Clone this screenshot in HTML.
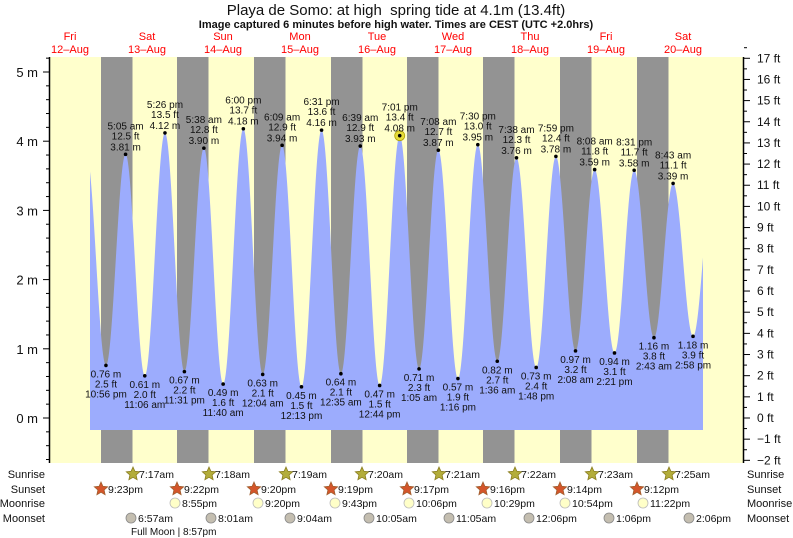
<!DOCTYPE html>
<html><head><meta charset="utf-8"><style>
html,body{margin:0;padding:0;background:#fff;}
svg{display:block;font-family:"Liberation Sans",Arial,sans-serif;}
</style></head><body>
<svg id="s" width="793" height="538" viewBox="0 0 793 538" xmlns="http://www.w3.org/2000/svg">
<rect x="0" y="0" width="793" height="538" fill="#fff"/>
<text x="396" y="15" font-size="15" text-anchor="middle" fill="#111">Playa de Somo: at high&#160; spring tide at 4.1m (13.4ft)</text>
<text x="396" y="28" font-size="11" font-weight="bold" text-anchor="middle" fill="#111">Image captured 6 minutes before high water. Times are CEST (UTC +2.0hrs)</text>
<g id="g"></g>
</svg>
<script>
const g=document.getElementById('g');let h='';
const X=t=>32.8+3.19*t, Y=m=>418-69.2*m;
h+='<rect x="49" y="57" width="694" height="406" fill="#ffffcc"/>';
const bands=[101,177,254,331,407,483,560,637];
bands.forEach(b=>h+=`<rect x="${b}" y="57" width="31.5" height="406" fill="#939393"/>`);
const days=[["Fri","12-Aug",70],["Sat","13-Aug",147],["Sun","14-Aug",223],["Mon","15-Aug",300],["Tue","16-Aug",377],["Wed","17-Aug",453],["Thu","18-Aug",530],["Fri","19-Aug",606],["Sat","20-Aug",683]];
days.forEach(d=>{h+=`<text x="${d[2]}" y="40" font-size="11" fill="#f00" text-anchor="middle">${d[0]}</text><text x="${d[2]}" y="53" font-size="11" fill="#f00" text-anchor="middle">${d[1].replace('-','\u2013')}</text>`});
const E=[[16.7,3.85,0,''],[22.93,0.76,0,'10:56 pm'],[29.08,3.81,1,'5:05 am'],[35.1,0.61,0,'11:06 am'],[41.43,4.12,1,'5:26 pm'],[47.52,0.67,0,'11:31 pm'],[53.63,3.90,1,'5:38 am'],[59.67,0.49,0,'11:40 am'],[66,4.18,1,'6:00 pm'],[72.07,0.63,0,'12:04 am'],[78.15,3.94,1,'6:09 am'],[84.22,0.45,0,'12:13 pm'],[90.52,4.16,1,'6:31 pm'],[96.58,0.64,0,'12:35 am'],[102.65,3.93,1,'6:39 am'],[108.73,0.47,0,'12:44 pm'],[115.02,4.08,1,'7:01 pm'],[121.08,0.71,0,'1:05 am'],[127.13,3.87,1,'7:08 am'],[133.27,0.57,0,'1:16 pm'],[139.5,3.95,1,'7:30 pm'],[145.6,0.82,0,'1:36 am'],[151.63,3.76,1,'7:38 am'],[157.8,0.73,0,'1:48 pm'],[163.98,3.78,1,'7:59 pm'],[170.13,0.97,0,'2:08 am'],[176.13,3.59,1,'8:08 am'],[182.35,0.94,0,'2:21 pm'],[188.52,3.58,1,'8:31 pm'],[194.72,1.16,0,'2:43 am'],[200.72,3.39,1,'8:43 am'],[206.97,1.18,0,'2:58 pm'],[213.2,3.45,1,'']];
function hAt(t){for(let i=0;i<E.length-1;i++){const a=E[i],b=E[i+1];if(t>=a[0]&&t<=b[0]){const f=(t-a[0])/(b[0]-a[0]);return a[1]+(b[1]-a[1])*(1-Math.cos(Math.PI*f))/2;}}return 2;}
let p='M90,430';for(let x=90;x<=703;x+=0.5){const t=(x-32.8)/3.19;p+=`L${x},${Y(hAt(t)).toFixed(1)}`;}p+='L703,430Z';
h+=`<path d="${p}" fill="#9cacfd"/>`;
E.forEach((e,i)=>{if(!e[3])return;const x=X(e[0]),y=Y(e[1]);const ft=(e[1]*3.28084).toFixed(1);const m=e[1].toFixed(2)+' m';
if(e[0]==115.02)h+=`<circle cx="${x}" cy="${y}" r="5" fill="#e6dc3a" stroke="#b0a000" stroke-width="0.8"/>`;
h+=`<circle cx="${x}" cy="${y}" r="1.8" fill="#000"/>`;
const st='font-size="10" text-anchor="middle" fill="#111"';
if(e[2]){h+=`<text x="${x}" y="${y-25}" ${st}>${e[3]}</text><text x="${x}" y="${y-15}" ${st}>${ft} ft</text><text x="${x}" y="${y-4}" ${st}>${m}</text>`;}
else{h+=`<text x="${x}" y="${y+12}" ${st}>${m}</text><text x="${x}" y="${y+22}" ${st}>${ft} ft</text><text x="${x}" y="${y+32}" ${st}>${e[3]}</text>`;}
});
h+='<line x1="49.5" y1="57" x2="49.5" y2="463" stroke="#000" stroke-width="1.5"/><line x1="743.5" y1="57" x2="743.5" y2="463" stroke="#000" stroke-width="1.5"/>';
for(let k=-3;k<=26;k++){const m=k*0.2,y=Y(m);if(y<57||y>463)continue;const maj=k%5==0;h+=`<line x1="${maj?43:46}" y1="${y}" x2="49" y2="${y}" stroke="#000"/>`;if(maj)h+=`<text x="38" y="${y+5}" font-size="13" text-anchor="end" fill="#111">${k/5} m</text>`;}
for(let f=-2;f<=17;f++){const y=418-21.16*f;h+=`<line x1="744" y1="${y}" x2="750" y2="${y}" stroke="#000"/>`;h+=`<line x1="744" y1="${y-10.58}" x2="747" y2="${y-10.58}" stroke="#000"/>`;h+=`<text x="757" y="${y+4}" font-size="12" fill="#111">${f<0?'\u2212'+(-f):f} ft</text>`;}
const rows=[['Sunrise',474],['Sunset',489],['Moonrise',503],['Moonset',518]];
rows.forEach(r=>{h+=`<text x="45" y="${r[1]+4}" font-size="11" text-anchor="end" fill="#111">${r[0]}</text><text x="747" y="${r[1]+4}" font-size="11" fill="#111">${r[0]}</text>`});
function star(cx,cy,fill,st){let pts=[];for(let i=0;i<10;i++){const r=i%2?3.3:7,a=-Math.PI/2+i*Math.PI/5;pts.push((cx+r*Math.cos(a)).toFixed(1)+','+(cy+r*Math.sin(a)).toFixed(1));}return `<polygon points="${pts.join(' ')}" fill="${fill}" stroke="${st}" stroke-width="0.8"/>`;}
const sr=[[133,'7:17am'],[209,'7:18am'],[286,'7:19am'],[362,'7:20am'],[439,'7:21am'],[515,'7:22am'],[592,'7:23am'],[669,'7:25am']];
sr.forEach(s=>{h+=star(s[0],474,'#b3ad3a','#8a7d20')+`<text x="${s[0]+6}" y="478" font-size="10.5" fill="#111">${s[1]}</text>`});
const ss=[[101,'9:23pm'],[177,'9:22pm'],[254,'9:20pm'],[331,'9:19pm'],[407,'9:17pm'],[483,'9:16pm'],[560,'9:14pm'],[637,'9:12pm']];
ss.forEach(s=>{h+=star(s[0],489,'#d4552a','#a06030')+`<text x="${s[0]+7}" y="493" font-size="10.5" fill="#111">${s[1]}</text>`});
const mr=[[175,'8:55pm'],[258,'9:20pm'],[335,'9:43pm'],[409,'10:06pm'],[487,'10:29pm'],[565,'10:54pm'],[643,'11:22pm']];
mr.forEach(s=>{h+=`<circle cx="${s[0]}" cy="503" r="5" fill="#ffffc8" stroke="#bbb" stroke-width="0.8"/><text x="${s[0]+7}" y="507" font-size="10.5" fill="#111">${s[1]}</text>`});
const ms=[[131,'6:57am'],[211,'8:01am'],[290,'9:04am'],[369,'10:05am'],[449,'11:05am'],[529,'12:06pm'],[609,'1:06pm'],[689,'2:06pm']];
ms.forEach(s=>{h+=`<circle cx="${s[0]}" cy="518" r="5" fill="#c4beb0" stroke="#888" stroke-width="0.8"/><text x="${s[0]+7}" y="522" font-size="10.5" fill="#111">${s[1]}</text>`});
h+='<text x="131" y="535" font-size="10" fill="#111">Full Moon | 8:57pm</text>';
g.innerHTML=h;
</script>
</body></html>
